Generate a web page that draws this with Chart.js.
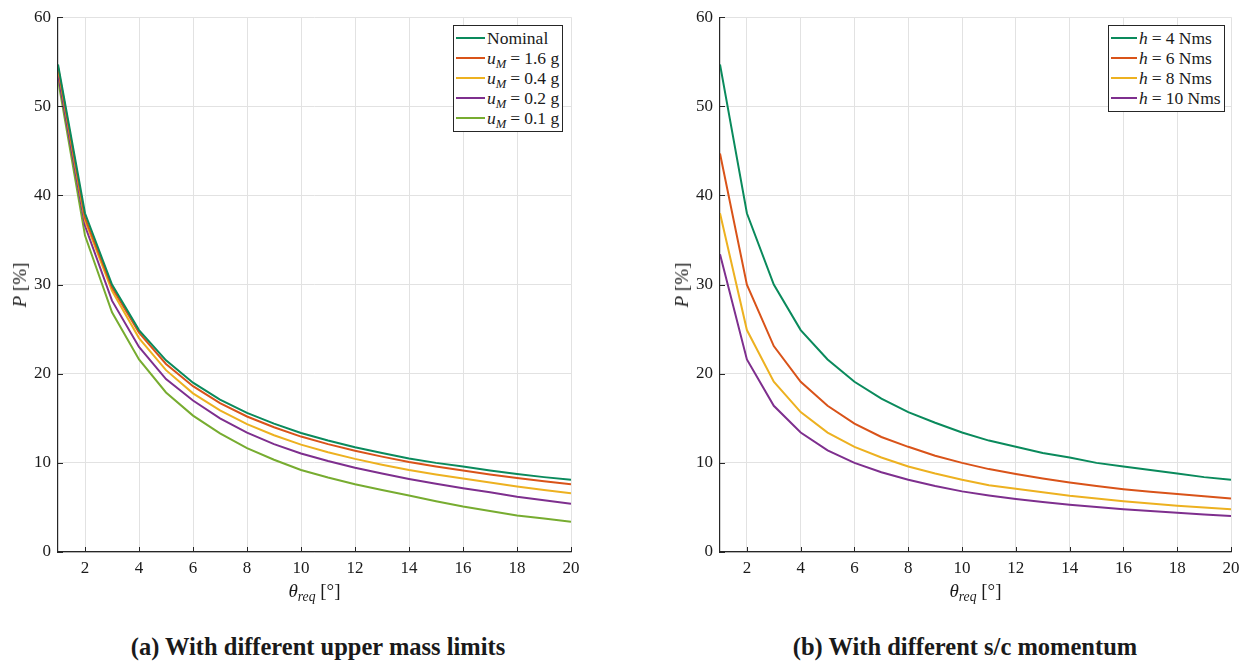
<!DOCTYPE html>
<html><head><meta charset="utf-8">
<script src="https://cdn.jsdelivr.net/npm/chart.js@4.4.1/dist/chart.umd.min.js"></script>
<style>
body{margin:0;background:#fff;width:1247px;height:666px;position:relative;overflow:hidden;font-family:"Liberation Serif","Times New Roman",serif;color:#1a1a1a}
.wrap{position:absolute;top:0}
canvas{display:block}
.legend{position:absolute;background:#fff;border:1px solid #262626;padding:2px 3px 3px 2px;font-size:17.5px;line-height:20px;white-space:nowrap;box-sizing:border-box}
.legend .row{display:flex;align-items:center;height:20px}
.legend .sw{display:inline-block;height:2px;margin-right:2px;flex:none}
.eq{margin:0 4px}
.cap{position:absolute;font-weight:bold;font-size:24.5px;top:633px;white-space:nowrap;transform:translateX(-50%)}
.xt{position:absolute;font-size:19px;transform:translateX(-50%);white-space:nowrap}
.yt{position:absolute;font-size:19px;white-space:nowrap;transform:translate(-50%,-50%) rotate(-90deg)}
sub{font-size:72%;vertical-align:-0.3em;line-height:0}
</style></head><body>
<div class="wrap" id="w1" style="left:0"><canvas id="c1" width="620" height="600"></canvas></div>
<div class="wrap" id="w2" style="left:640px"><canvas id="c2" width="607" height="600"></canvas></div>
<div class="cap" style="left:318px">(a) With different upper mass limits</div>
<div class="cap" style="left:965px">(b) With different s/c momentum</div>
<script>
// ---- data ----
const theta = [1,2,3,4,5,6,7,8,9,10,11,12,13,14,15,16,17,18,19,20];
const nominal = [54.7,38.0,30.0,24.9,21.5,19.0,17.1,15.6,14.4,13.35,12.5,11.75,11.1,10.5,10.0,9.6,9.15,8.75,8.4,8.1];
const uM16 = [54.4,37.5,29.7,24.6,21.1,18.6,16.7,15.2,14.0,12.95,12.1,11.35,10.7,10.1,9.6,9.15,8.7,8.3,7.95,7.6];
const uM04 = [54.3,37.2,29.3,24.0,20.4,17.8,15.9,14.35,13.1,12.05,11.2,10.45,9.8,9.2,8.7,8.25,7.8,7.35,6.95,6.6];
const uM02 = [53.6,36.6,28.2,23.0,19.4,17.0,15.0,13.4,12.1,11.05,10.2,9.45,8.8,8.2,7.65,7.15,6.7,6.2,5.8,5.4];
const uM01 = [53.0,35.5,26.9,21.6,17.9,15.3,13.3,11.65,10.35,9.2,8.35,7.6,6.95,6.35,5.7,5.1,4.6,4.1,3.75,3.4];
const h4  = [54.7,38.0,30.0,24.9,21.6,19.1,17.2,15.7,14.5,13.4,12.5,11.8,11.1,10.6,10.0,9.6,9.2,8.8,8.4,8.1];
const h6  = [44.7,30.0,23.1,19.1,16.4,14.4,12.9,11.8,10.8,10.0,9.3,8.75,8.25,7.8,7.4,7.05,6.75,6.5,6.25,6.0];
const h8  = [38.0,24.9,19.1,15.7,13.4,11.8,10.6,9.6,8.8,8.1,7.5,7.1,6.7,6.3,6.0,5.7,5.45,5.2,5.0,4.8];
const h10 = [33.4,21.6,16.4,13.4,11.4,10.0,8.95,8.1,7.4,6.8,6.35,5.95,5.6,5.3,5.05,4.8,4.6,4.4,4.2,4.05];
const labelsA = ['Nominal','u_M = 1.6 g','u_M = 0.4 g','u_M = 0.2 g','u_M = 0.1 g'];
const legendA = ['Nominal','<i>u</i><sub><i>M</i></sub><span class="eq">=</span>1.6 g','<i>u</i><sub><i>M</i></sub><span class="eq">=</span>0.4 g','<i>u</i><sub><i>M</i></sub><span class="eq">=</span>0.2 g','<i>u</i><sub><i>M</i></sub><span class="eq">=</span>0.1 g'];
const labelsB = ['h = 4 Nms','h = 6 Nms','h = 8 Nms','h = 10 Nms'];
const legendB = ['<i>h</i><span class="eq">=</span>4 Nms','<i>h</i><span class="eq">=</span>6 Nms','<i>h</i><span class="eq">=</span>8 Nms','<i>h</i><span class="eq">=</span>10 Nms'];
const xMin = 1, xMax = 20, xStep = 2;
const yMin = 0, yMax = 60, yStep = 10;
const colorsA = ['#0a8a5c','#d95319','#edb120','#7e2f8e','#77ac30'];
const colorsB = ['#0a8a5c','#d95319','#edb120','#7e2f8e'];

const FONT = '"Liberation Serif","Times New Roman",serif';
const inwardTicks = {id:'inwardTicks', afterDatasetsDraw(chart){
  const {ctx, chartArea:a, scales:{x,y}} = chart;
  ctx.save(); ctx.strokeStyle='#262626'; ctx.lineWidth=1; ctx.beginPath();
  x.ticks.forEach(t=>{const px=Math.round(x.getPixelForValue(t.value))+0.5; ctx.moveTo(px,a.bottom); ctx.lineTo(px,a.bottom-5);});
  y.ticks.forEach(t=>{const py=Math.round(y.getPixelForValue(t.value))+0.5; ctx.moveTo(a.left,py); ctx.lineTo(a.left+5,py);});
  ctx.stroke(); ctx.restore();
}};

function makeChart(id, series, labels, colors, yWidth, padRight){
  const ds = series.map((s,i)=>({label:labels[i], data:theta.map((t,j)=>({x:t,y:s[j]})), borderColor:colors[i], backgroundColor:colors[i], borderWidth:2, pointRadius:0, tension:0, fill:false}));
  return new Chart(document.getElementById(id), {
    type:'line',
    data:{datasets:ds},
    options:{
      responsive:false, animation:false, events:[],
      layout:{padding:{top:16,left:0,right:padRight,bottom:0}},
      plugins:{legend:{display:false}, tooltip:{enabled:false}},
      scales:{
        x:{type:'linear', min:xMin, max:xMax,
           ticks:{stepSize:xStep, includeBounds:false, padding:6, color:'#1a1a1a', font:{family:FONT,size:17}, maxRotation:0},
           grid:{color:'#e2e2e2', drawTicks:false, lineWidth:1},
           border:{display:true, color:'#262626', width:1.2},
           afterFit(s){ s.height = 48; }},
        y:{type:'linear', min:yMin, max:yMax,
           ticks:{stepSize:yStep, padding:7, color:'#1a1a1a', font:{family:FONT,size:17}},
           grid:{color:'#e2e2e2', drawTicks:false, lineWidth:1},
           border:{display:true, color:'#262626', width:1.2},
           afterFit(s){ s.width = yWidth; }}
      }
    },
    plugins:[inwardTicks]
  });
}

function decorate(chart, wrapId, legendHtml, colors, lineLen, rightOff){
  const w = document.getElementById(wrapId);
  const a = chart.chartArea;
  const lg = document.createElement('div'); lg.className='legend';
  legendHtml.forEach((h,i)=>{
    const r = document.createElement('div'); r.className='row';
    r.innerHTML = '<span class="sw" style="width:'+lineLen+'px;background:'+colors[i]+'"></span><span>'+h+'</span>';
    lg.appendChild(r);
  });
  w.appendChild(lg);
  lg.style.top = (a.top+8)+'px';
  lg.style.left = (a.right - rightOff - lg.offsetWidth)+'px';
  const xt = document.createElement('div'); xt.className='xt';
  xt.innerHTML = '<i>θ</i><sub><i>req</i></sub> [°]';
  xt.style.left = ((a.left+a.right)/2)+'px'; xt.style.top = '580px';
  w.appendChild(xt);
  const yt = document.createElement('div'); yt.className='yt';
  yt.innerHTML = '<i>P</i> [%]';
  yt.style.left = (a.left - 38)+'px'; yt.style.top = ((a.top+a.bottom)/2)+'px';
  w.appendChild(yt);
}

const c1 = makeChart('c1',[nominal,uM16,uM04,uM02,uM01],labelsA,colorsA,58,49);
const c2 = makeChart('c2',[h4,h6,h8,h10],labelsB,colorsB,80,16);
decorate(c1,'w1',legendA,colorsA,29,8);
decorate(c2,'w2',legendB,colorsB,26,6);
</script>
</body></html>
